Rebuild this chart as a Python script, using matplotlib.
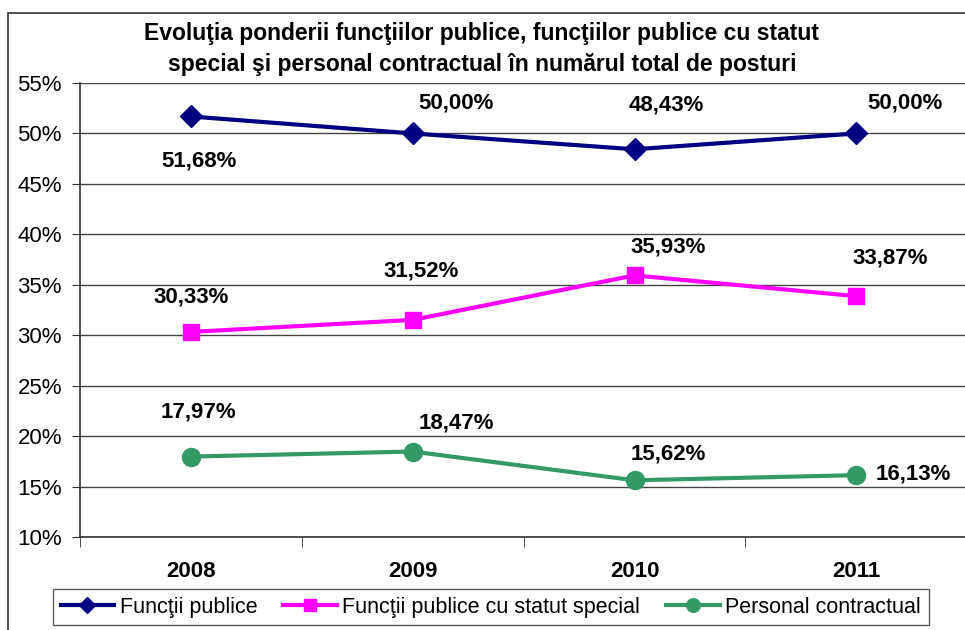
import matplotlib.pyplot as plt
from matplotlib.patches import Rectangle
from matplotlib.ticker import FuncFormatter, MultipleLocator

plt.rcParams["font.family"] = ["Liberation Sans", "DejaVu Sans"]

# ---- Data ----
years = ["2008", "2009", "2010", "2011"]
functii_publice = [51.68, 50.00, 48.43, 50.00]
statut_special = [30.33, 31.52, 35.93, 33.87]
personal_contractual = [17.97, 18.47, 15.62, 16.13]

series_names = ["Funcţii publice", "Funcţii publice cu statut special", "Personal contractual"]

title = ("Evoluţia ponderii funcţiilor publice, funcţiilor publice cu statut\n"
         "special şi personal contractual în numărul total de posturi")

W, H = 965, 630
fig = plt.figure(figsize=(W / 100, H / 100), dpi=100)

# outer chart frame
fig.patches.append(Rectangle((8 / W, -0.1), 1.1, 1 - 13 / H + 0.1,
                             transform=fig.transFigure, fill=False,
                             edgecolor="#333333", linewidth=1.2))

ax = fig.add_axes([80 / W, 1 - 537 / H, (W - 80) / W, (537 - 83) / H])

x = list(range(len(years)))
styles = [
    (functii_publice, "#000080", "D", 11),
    (statut_special, "#FF00FF", "s", 12),
    (personal_contractual, "#339966", "o", 13),
]
for (vals, color, marker, ms), name in zip(styles, series_names):
    ax.plot(x, vals, color=color, linewidth=3, marker=marker, markersize=ms,
            label=name, clip_on=False, zorder=3)

# value labels (offsets in pixels from each point)
offsets = [
    [(8, -45), (43, 30), (32, 44), (49, 30)],
    [(0, 35), (8, 49), (34, 28), (34, 38)],
    [(8, 45), (44, 29), (34, 26), (57, 1)],
]
for vals, offs in zip([functii_publice, statut_special, personal_contractual], offsets):
    for xi, v, off in zip(x, vals, offs):
        ax.annotate(f"{v:.2f}%".replace(".", ","), (xi, v), xytext=off,
                    textcoords="offset pixels", ha="center", va="center",
                    fontsize=16, fontweight="bold", zorder=4)

ax.set_xlim(-0.5, 3.49)
ax.set_ylim(10, 55)
ax.yaxis.set_major_locator(MultipleLocator(5))
ax.yaxis.set_major_formatter(FuncFormatter(lambda v, _: f"{v:.0f}%"))
ax.set_xticks(x)
ax.set_xticklabels(years, fontweight="bold", fontsize=16)
ax.set_xticks([-0.5, 0.5, 1.5, 2.5], minor=True)
ax.tick_params(axis="x", which="major", length=0, pad=17)
ax.tick_params(axis="x", which="minor", length=7, direction="out", color="#333333")
ax.tick_params(axis="y", length=6, direction="out", color="#333333",
               labelsize=16, pad=7)

ax.grid(axis="y", color="#444444", linewidth=1)
ax.set_axisbelow(True)
for side in ["top", "right"]:
    ax.spines[side].set_visible(False)
ax.spines["left"].set_color("#333333")
ax.spines["bottom"].set_color("#333333")
ax.spines["left"].set_linewidth(1.2)
ax.spines["bottom"].set_linewidth(1.2)

fig.text(482 / W, 1 - 49 / H, title, ha="center", va="center",
         fontsize=16.5, fontweight="bold", linespacing=1.45)

leg = fig.legend(loc="upper left", bbox_to_anchor=(53 / W, 1 - 589 / H),
                 ncol=3, fontsize=15.5, frameon=True, fancybox=False,
                 edgecolor="#333333", handlelength=2.5, handletextpad=0.25,
                 columnspacing=1.2, borderpad=0.35, borderaxespad=0,
                 markerscale=0.75)
leg.get_frame().set_linewidth(1)

fig.savefig("out.png", dpi=100)
